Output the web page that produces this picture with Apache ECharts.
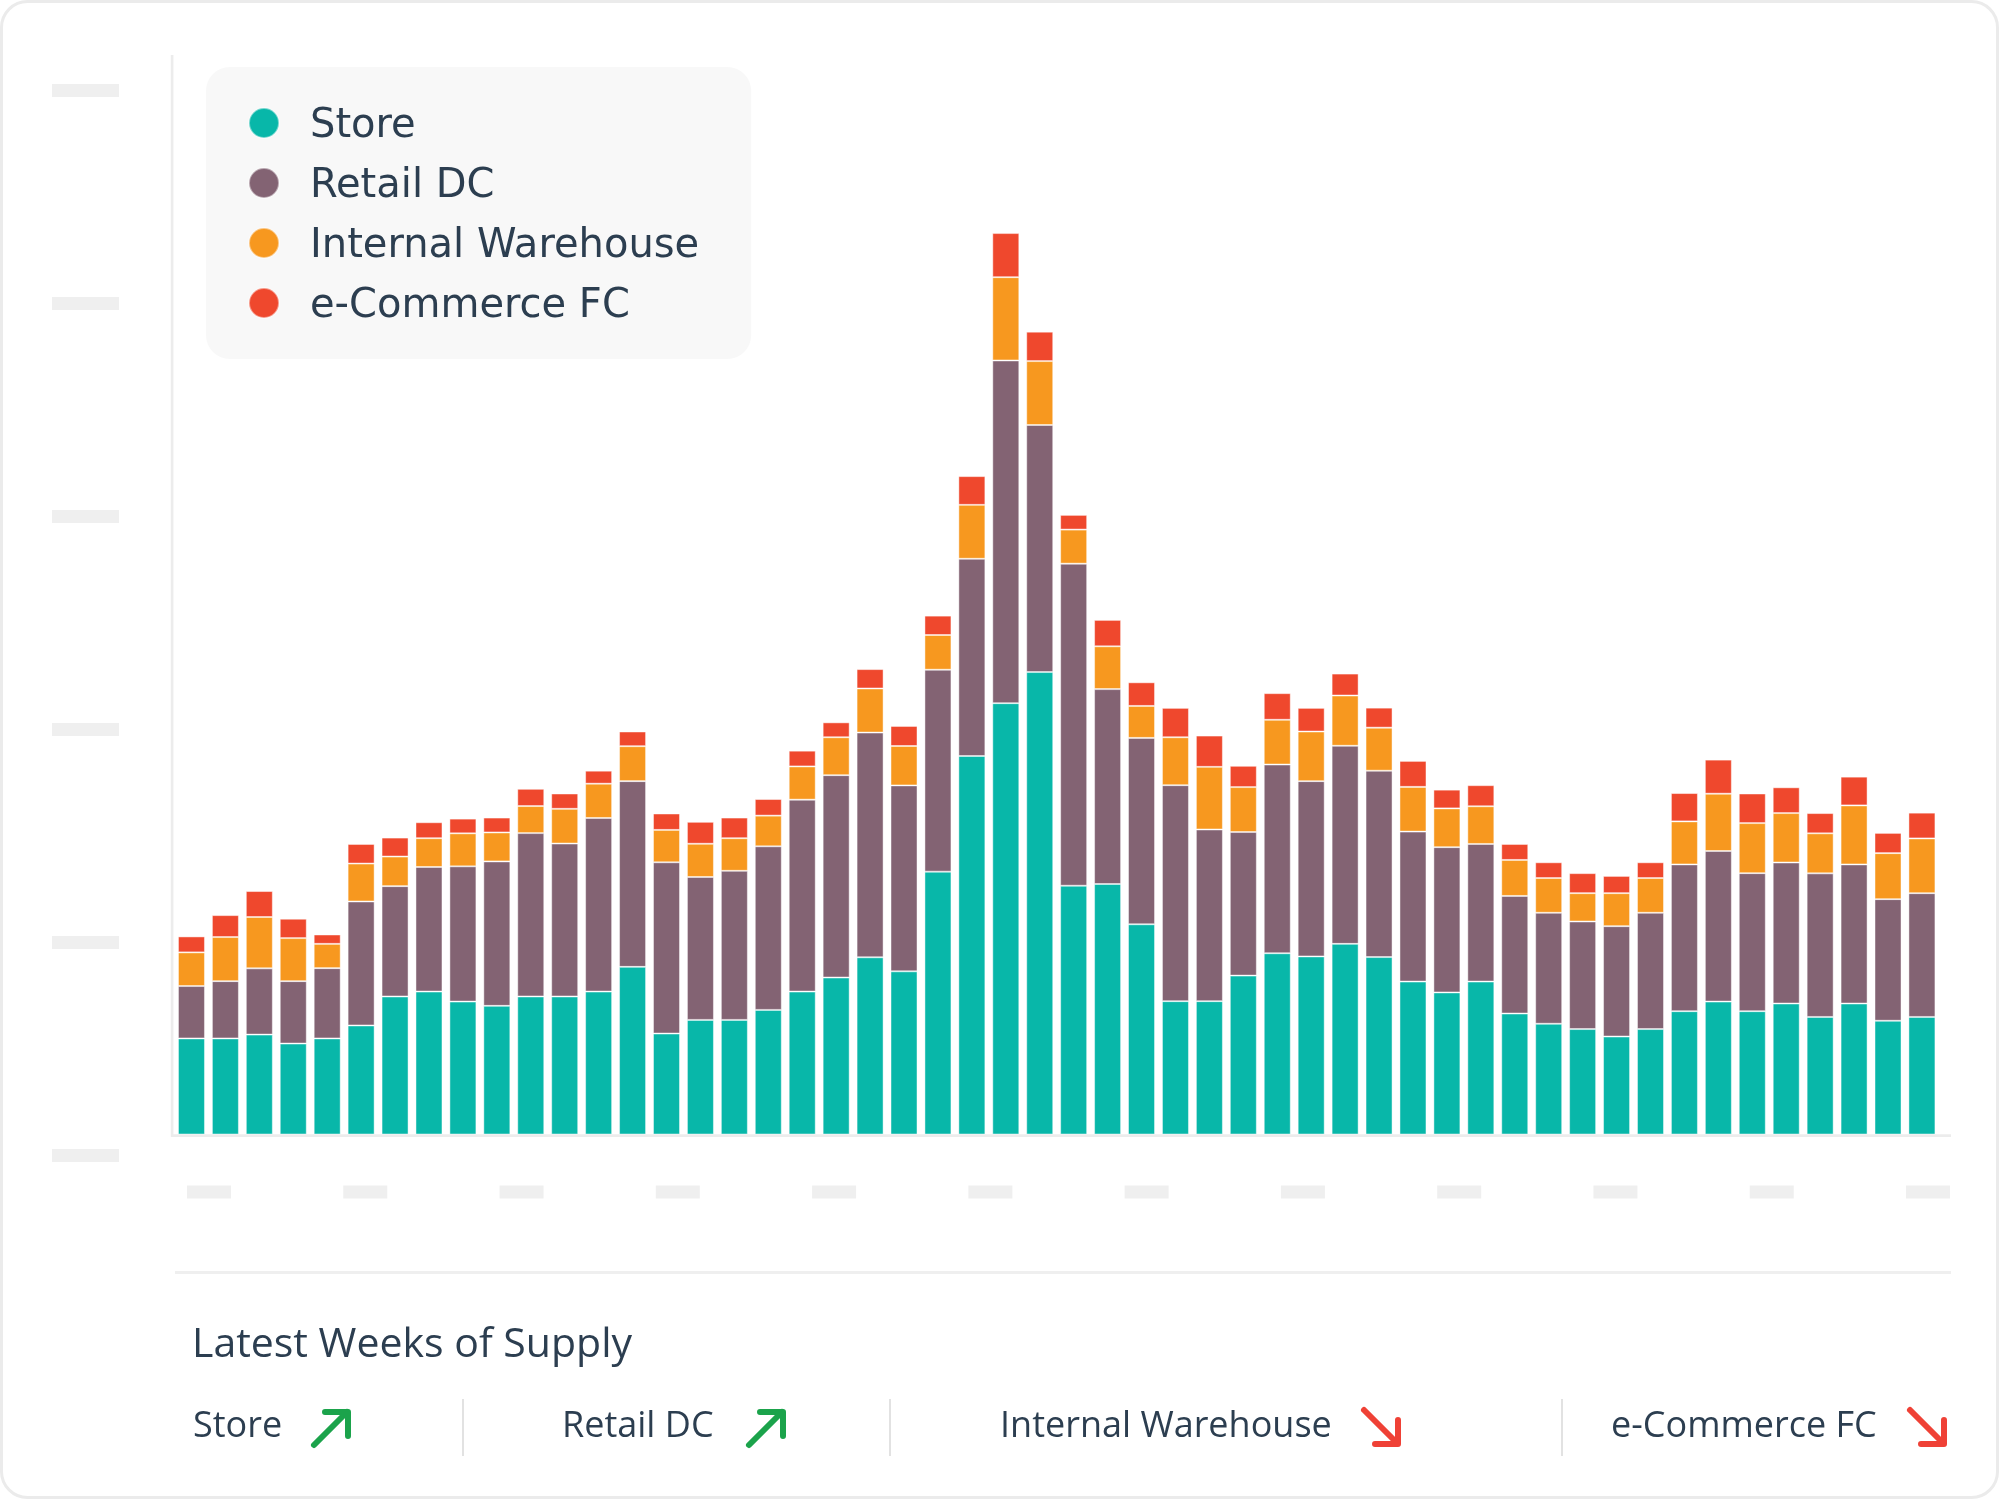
<!DOCTYPE html>
<html>
<head>
<meta charset="utf-8">
<script src="https://cdn.jsdelivr.net/npm/echarts@6/dist/echarts.min.js"></script>
<style>
  html, body { margin: 0; padding: 0; background: #ffffff; }
  #chart { width: 2000px; height: 1500px; }
</style>
</head>
<body>
<div id="chart"></div>
<script>
// ---- Data (weeks of supply, stacked by location) ----
const weeks = Array.from({length: 52}, (_, i) => 'W' + (i + 1));

const seriesNames = ['Store', 'Retail DC', 'Internal Warehouse', 'e-Commerce FC'];
const seriesColors = ['#08b7a9', '#836373', '#f7981f', '#ef482d'];

const store = [4.51,4.51,4.69,4.27,4.51,5.12,6.48,6.71,6.24,6.04,6.48,6.48,6.71,7.87,4.74,5.38,5.38,5.85,6.71,7.37,
  8.32,7.66,12.34,17.77,20.25,21.71,11.68,11.76,9.87,6.26,6.26,7.46,8.51,8.36,8.95,
  8.33,7.18,6.67,7.18,5.68,5.20,4.95,4.60,4.95,5.79,6.24,5.79,6.15,5.52,6.15,5.34,5.52];

const retailDC = [2.46,2.69,3.11,2.93,3.30,5.82,5.18,5.85,6.35,6.78,7.67,7.18,8.15,8.72,8.04,6.71,7.00,7.68,9.01,9.50,
  10.55,8.73,9.48,9.26,16.09,11.60,15.12,9.15,8.75,10.14,8.06,6.74,8.86,8.23,9.30,
  8.75,7.04,6.82,6.46,5.52,5.21,5.05,5.18,5.46,6.89,7.07,6.48,6.62,6.74,6.53,5.71,5.81];

const internalWarehouse = [1.58,2.07,2.41,2.02,1.14,1.78,1.39,1.35,1.55,1.36,1.27,1.63,1.61,1.64,1.52,1.56,1.53,1.44,1.56,1.78,
  2.07,1.85,1.63,2.53,3.91,3.00,1.60,2.01,1.50,2.25,2.94,2.11,2.10,2.33,2.36,
  2.02,2.10,1.82,1.77,1.69,1.63,1.33,1.55,1.63,2.02,2.69,2.35,2.32,1.88,2.77,2.16,2.57];

const eCommerceFC = [0.75,1.03,1.22,0.91,0.44,0.92,0.89,0.75,0.69,0.70,0.81,0.72,0.61,0.69,0.77,1.03,0.97,0.78,0.74,0.70,
  0.91,0.94,0.91,1.35,2.07,1.38,0.69,1.24,1.11,1.38,1.47,1.00,1.25,1.11,1.03,
  0.94,1.22,0.88,0.99,0.75,0.74,0.94,0.81,0.74,1.33,1.60,1.39,1.21,0.95,1.35,0.95,1.21];

// Placeholder (skeleton) tick slots
const yPlaceholderTicks = [0, 1, 2, 3, 4, 5];
const xPlaceholderTicks = [0, 1, 2, 3, 4, 5, 6, 7, 8, 9, 10, 11];

// Summary: latest weeks-of-supply trend per location
const trendTitle = 'Latest Weeks of Supply';
const trendLabels = ['Store', 'Retail DC', 'Internal Warehouse', 'e-Commerce FC'];
const trendDirections = ['up', 'up', 'down', 'down'];

// ---- Chart ----
const chart = echarts.init(document.getElementById('chart'), null, {renderer: 'canvas'});

const TEXT = '#2c3e50';
const LINE = '#ececec';
const PH = '#efefef';

const allData = [store, retailDC, internalWarehouse, eCommerceFC];

const series = seriesNames.map((name, k) => ({
  name: name,
  type: 'bar',
  stack: 'total',
  xAxisIndex: 0,
  yAxisIndex: 0,
  barWidth: 27,
  itemStyle: { color: seriesColors[k], borderColor: 'rgba(255,255,255,0.45)', borderWidth: 1 },
  emphasis: { disabled: true },
  data: allData[k]
}));

// Trend row layout
const trendTextX = [193, 562, 1000, 1611];
const arrowX = [311, 746, 1361, 1907];
const sepX = [463, 890, 1562];

const graphics = [];
// card
graphics.push({ type: 'rect', z: -20, silent: true,
  shape: { x: 1.5, y: 1.5, width: 1996, height: 1496, r: 26 },
  style: { fill: '#ffffff', stroke: '#ebebeb', lineWidth: 3 } });
// axis lines
graphics.push({ type: 'rect', z: 5, silent: true, shape: { x: 170.8, y: 55, width: 2.6, height: 1081.7 }, style: { fill: LINE } });
graphics.push({ type: 'rect', z: 5, silent: true, shape: { x: 171, y: 1134.3, width: 1780, height: 2.6 }, style: { fill: LINE } });
// divider
graphics.push({ type: 'rect', silent: true, shape: { x: 175, y: 1271, width: 1776, height: 3 }, style: { fill: PH } });
// title
graphics.push({ type: 'text', silent: true, x: 192, y: 1345,
  style: { text: trendTitle, fill: TEXT, font: '41px "Open Sans"', verticalAlign: 'middle' } });
// trend labels & arrows
trendLabels.forEach((lab, i) => {
  graphics.push({ type: 'text', silent: true, x: trendTextX[i], y: 1427,
    style: { text: lab, fill: TEXT, font: '36px "Open Sans"', verticalAlign: 'middle' } });
  const x0 = arrowX[i];
  const up = trendDirections[i] === 'up';
  const col = up ? '#1ba34b' : '#ef4136';
  const y0 = up ? 1408 : 1407;
  const st = { stroke: col, lineWidth: 6, lineCap: 'round', lineJoin: 'round', fill: null };
  if (up) {
    graphics.push({ type: 'line', silent: true, shape: { x1: x0 + 3, y1: y0 + 37, x2: x0 + 36, y2: y0 + 4 }, style: st });
    graphics.push({ type: 'polyline', silent: true, shape: { points: [[x0 + 14, y0 + 4], [x0 + 37, y0 + 4], [x0 + 37, y0 + 28]] }, style: st });
  } else {
    graphics.push({ type: 'line', silent: true, shape: { x1: x0 + 3, y1: y0 + 3, x2: x0 + 36, y2: y0 + 36 }, style: st });
    graphics.push({ type: 'polyline', silent: true, shape: { points: [[x0 + 37, y0 + 13], [x0 + 37, y0 + 37], [x0 + 14, y0 + 37]] }, style: st });
  }
});
sepX.forEach(x => {
  graphics.push({ type: 'rect', silent: true, shape: { x: x - 1, y: 1399, width: 2, height: 57 }, style: { fill: '#e2e2e2' } });
});

const phRichX = { b: { width: 44, height: 13, lineHeight: 13, backgroundColor: PH } };
const phRichY = { b: { width: 67, height: 13, lineHeight: 13, backgroundColor: PH } };

const option = {
  backgroundColor: '#ffffff',
  animation: false,
  color: seriesColors,
  textStyle: { fontFamily: 'DejaVu Sans' },
  legend: {
    show: true,
    orient: 'vertical',
    left: 206,
    top: 67,
    padding: [40, 52, 32, 42],
    backgroundColor: '#f8f8f8',
    borderRadius: 24,
    icon: 'circle',
    itemWidth: 30,
    itemHeight: 30,
    itemGap: 20,
    selectedMode: false,
    data: seriesNames,
    formatter: (name) => '{t|' + name + '}',
    textStyle: {
      color: TEXT, fontSize: 40, fontFamily: 'DejaVu Sans',
      rich: { t: { color: TEXT, fontSize: 40, fontFamily: 'DejaVu Sans', padding: [8, 0, 0, 26] } }
    }
  },
  grid: [
    { left: 174.5, top: 69.5, width: 1764.4, height: 1065, containLabel: false },
    { left: 209, top: 90.6, width: 1719, height: 1065, containLabel: false }
  ],
  xAxis: [
    { type: 'category', gridIndex: 0, data: weeks,
      axisLine: { show: false }, axisTick: { show: false }, axisLabel: { show: false }, splitLine: { show: false } },
    { type: 'value', gridIndex: 1, min: 0, max: 11, interval: 1,
      axisLine: { show: false }, axisTick: { show: false }, splitLine: { show: false },
      axisLabel: { show: true, margin: 30, formatter: (v) => xPlaceholderTicks.includes(v) ? '{b| }' : '', rich: phRichX } }
  ],
  yAxis: [
    { type: 'value', gridIndex: 0, min: 0, max: 50,
      axisLine: { show: false }, axisTick: { show: false }, axisLabel: { show: false }, splitLine: { show: false } },
    { type: 'value', gridIndex: 1, min: 0, max: 5, interval: 1,
      axisLine: { show: false }, axisTick: { show: false }, splitLine: { show: false },
      axisLabel: { show: true, margin: 90, formatter: (v) => yPlaceholderTicks.includes(v) ? '{b| }' : '', rich: phRichY } }
  ],
  graphic: { elements: graphics },
  series: series
};

chart.setOption(option);
</script>
</body>
</html>
